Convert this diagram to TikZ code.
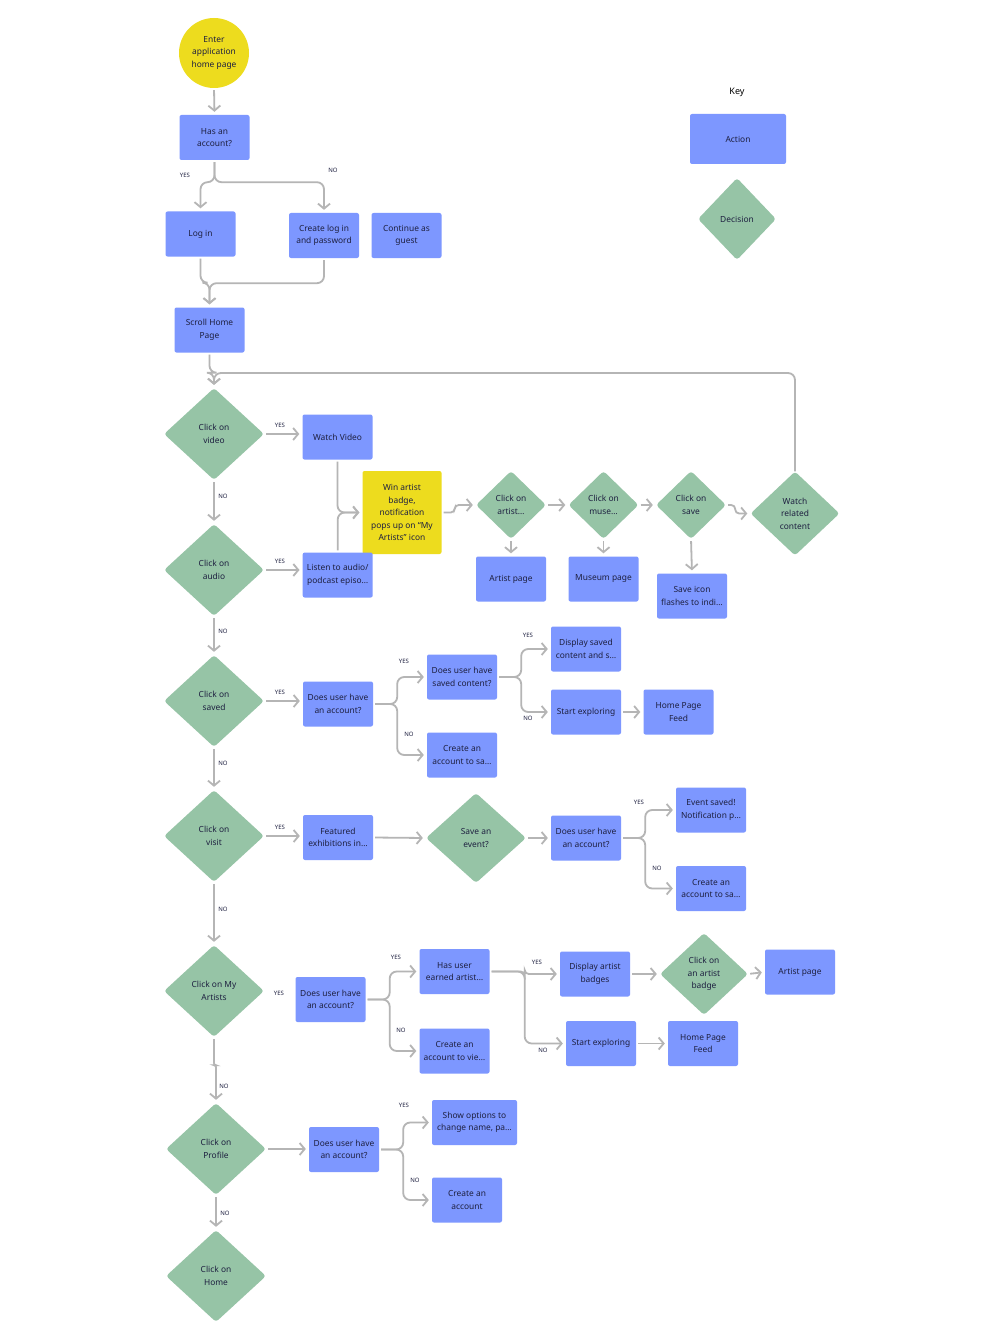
\documentclass[tikz,border=0pt]{standalone}
\usepackage{fontspec}
\setmainfont{Noto Sans}
\usetikzlibrary{shapes.geometric,arrows.meta}

\definecolor{actblue}{HTML}{7D97FF}
\definecolor{decgreen}{HTML}{96C4A6}
\definecolor{winyellow}{HTML}{EDDC1E}
\definecolor{linegray}{HTML}{B5B5B5}
\definecolor{ink}{HTML}{1E2040}

\newcommand\actfont{\fontsize{8.4}{12.5}\selectfont}
\newcommand\tagfont{\fontsize{6}{6.5}\selectfont}

\tikzstyle{action}=[shape=rectangle,rounded corners=2pt,fill=actblue,minimum width=70pt,minimum height=45pt,inner sep=1pt,align=center,font=\actfont,text=ink]
\tikzstyle{decision}=[shape=diamond,rounded corners=3pt,fill=decgreen,minimum width=100pt,minimum height=92pt,inner sep=0pt,align=center,font=\actfont,text=ink]
\tikzstyle{smalldec}=[decision,minimum width=70pt,minimum height=68pt]
\tikzstyle{win}=[action,fill=winyellow]
\tikzstyle{start}=[shape=circle,fill=winyellow,minimum size=70pt,inner sep=0pt,align=center,font=\actfont,text=ink]
\tikzstyle{conn}=[draw=linegray,line width=1.8pt,rounded corners=7pt,shorten >=3pt,shorten <=2pt,-{Straight Barb[length=5pt,width=12pt]}]
\tikzstyle{tag}=[font=\tagfont,text=ink,inner sep=0pt]
\def\fork{24}

\begin{document}
\begin{tikzpicture}[x=1pt,y=-1pt]
\path[fill=white,use as bounding box] (0,0) rectangle (1000,1340);

% entry
\node[start] (enter) at (214,53) {Enter\\application\\home page};
\node[action] (hasacc) at (214.5,137.5) {Has an\\account?};
\node[action] (login) at (200.5,234) {Log in};
\node[action] (createlog) at (324,235.5) {Create log in\\and password};
\node[action] (guest) at (406.5,235.5) {Continue as\\guest};
\node[action] (scroll) at (209.5,330) {Scroll Home\\Page};

\draw[conn] (enter.south) -- (hasacc.north);
\draw[conn] (hasacc.south) -- ++(0,22) -| (login.north);
\draw[conn] (hasacc.south) -- ++(0,22) -| (createlog.north);
\node[tag] at (185,175) {YES};
\node[tag] at (333,170) {NO};
\draw[conn] (login.south) -- ++(0,26) -| (scroll.north);
\draw[conn] (createlog.south) -- ++(0,25) -| (scroll.north);

% key
\node[font=\fontsize{9}{10}\selectfont\bfseries] (key) at (737,92) {Key};
\node[action,minimum width=96pt,minimum height=50pt] (keyact) at (738,139) {Action};
\node[decision,minimum width=78pt,minimum height=82pt] (keydec) at (737,219) {Decision};

% video and audio
\node[decision] (video) at (214,434) {Click on\\video};
\node[action] (watchv) at (337.5,437) {Watch Video};
\node[win,minimum width=79pt,minimum height=83pt] (badge) at (402,512.5) {Win artist\\badge,\\notification\\pops up on ``My\\Artists'' icon};
\node[decision] (audio) at (214,570) {Click on\\audio};
\node[action] (listen) at (337.7,575) {Listen to audio/\\podcast episo…};
\node[smalldec] (cartist) at (511,505) {Click on\\artist…};
\node[smalldec] (cmuseum) at (603.5,505) {Click on\\muse…};
\node[smalldec] (csave) at (691,505) {Click on\\save};
\node[decision,minimum width=89pt,minimum height=84pt] (related) at (795,513.5) {Watch\\related\\content};
\node[action] (artistpg) at (511,579) {Artist page};
\node[action] (museumpg) at (603.5,579) {Museum page};
\node[action] (saveicon) at (692,596) {Save icon\\flashes to indi…};

\coordinate (loop) at (214,373);
\draw[conn] (scroll.south) -- ++(0,20) -| (video.north);
\draw[conn,shorten <=0pt] (related.north) |- (loop) -- (video.north);
\draw[conn] (video.east) -- (video.east -| watchv.west);
\node[tag] at (280,425) {YES};
\draw[conn] (video.south) -- (audio.north);
\node[tag] at (223,496) {NO};
\draw[conn] (watchv.south) |- (badge.west);
\draw[conn] (listen.north) |- (badge.west);
\draw[conn] (audio.east) -- (audio.east -| listen.west);
\node[tag] at (280,561) {YES};
\draw[conn,rounded corners=4pt] (badge.east) -- ++(13,0) |- (cartist.west);
\draw[conn] (cartist.east) -- (cmuseum.west);
\draw[conn] (cmuseum.east) -- (csave.west);
\draw[conn,rounded corners=4pt] (csave.east) -- ++(9,0) |- (related.west);
\draw[conn] (cartist.south) -- (artistpg.north);
\draw[conn] (cmuseum.south) -- (museumpg.north);
\draw[conn] (csave.south) -- (saveicon.north);

% saved
\node[decision] (saved) at (214,701) {Click on\\saved};
\node[action] (acc1) at (338,704) {Does user have\\an account?};
\node[action] (hascontent) at (462,677) {Does user have\\saved content?};
\node[action] (create1) at (462,755) {Create an\\account to sa…};
\node[action] (display1) at (586,649) {Display saved\\content and s…};
\node[action] (explore1) at (586,712) {Start exploring};
\node[action] (feed1) at (678.5,712) {Home Page\\Feed};

\draw[conn] (audio.south) -- (saved.north);
\node[tag] at (223,631) {NO};
\draw[conn] (saved.east) -- (saved.east -| acc1.west);
\node[tag] at (280,692) {YES};
\draw[conn] (acc1.east) -- ++(\fork,0) |- (hascontent.west);
\draw[conn] (acc1.east) -- ++(\fork,0) |- (create1.west);
\node[tag] at (404,661) {YES};
\node[tag] at (409,734) {NO};
\draw[conn] (hascontent.east) -- ++(\fork,0) |- (display1.west);
\draw[conn] (hascontent.east) -- ++(\fork,0) |- (explore1.west);
\node[tag] at (528,635) {YES};
\node[tag] at (528,718) {NO};
\draw[conn] (explore1.east) -- (feed1.west);

% visit
\node[decision] (visit) at (214,836) {Click on\\visit};
\node[action] (featured) at (338,837.5) {Featured\\exhibitions in…};
\node[decision,minimum height=90pt] (event) at (476,838) {Save an\\event?};
\node[action] (acc2) at (586,838) {Does user have\\an account?};
\node[action] (evsaved) at (711,810) {Event saved!\\Notification p…};
\node[action] (create2) at (711,888.5) {Create an\\account to sa…};

\draw[conn] (saved.south) -- (visit.north);
\node[tag] at (223,763) {NO};
\draw[conn] (visit.east) -- (visit.east -| featured.west);
\node[tag] at (280,827) {YES};
\draw[conn] (featured.east) -- (event.west);
\draw[conn] (event.east) -- (acc2.west);
\draw[conn] (acc2.east) -- ++(\fork,0) |- (evsaved.west);
\draw[conn] (acc2.east) -- ++(\fork,0) |- (create2.west);
\node[tag] at (639,802) {YES};
\node[tag] at (657,868) {NO};

% my artists
\node[decision] (myartists) at (214,991) {Click on My\\Artists};
\node[action] (acc3) at (330.5,999.5) {Does user have\\an account?};
\node[action] (earned) at (454.5,971.5) {Has user\\earned artist…};
\node[action] (create3) at (454.5,1051) {Create an\\account to vie…};
\node[action] (badges) at (595,974) {Display artist\\badges};
\node[decision,minimum width=88pt,minimum height=82pt] (cbadge) at (704,974) {Click on\\an artist\\badge};
\node[action] (artistpg2) at (800,972) {Artist page};
\node[action] (explore2) at (601,1043.5) {Start exploring};
\node[action] (feed2) at (703,1043.5) {Home Page\\Feed};

\draw[conn] (visit.south) -- (myartists.north);
\node[tag] at (223,909) {NO};
\node[tag] at (279,993) {YES};
\draw[conn] (acc3.east) -- ++(\fork,0) |- (earned.west);
\draw[conn] (acc3.east) -- ++(\fork,0) |- (create3.west);
\node[tag] at (396,957) {YES};
\node[tag] at (401,1030) {NO};
\draw[conn,rounded corners=4pt] (earned.east) -- ++(35,0) |- (badges.west);
\draw[conn] (earned.east) -- ++(35,0) |- (explore2.west);
\node[tag] at (537,962) {YES};
\node[tag] at (543,1050) {NO};
\draw[conn] (badges.east) -- (cbadge.west);
\draw[conn] (cbadge.east) -- (artistpg2.west);
\draw[conn] (explore2.east) -- (feed2.west);

% profile and home
\node[decision] (profile) at (216,1149) {Click on\\Profile};
\node[action] (acc4) at (344,1149.5) {Does user have\\an account?};
\node[action,minimum width=85pt] (options) at (474.5,1122.5) {Show options to\\change name, pa…};
\node[action] (create4) at (467,1200) {Create an\\account};
\node[decision] (home) at (216,1276) {Click on\\Home};

\draw[conn,rounded corners=2pt] (myartists.south) -- ++(0,28) -| (profile.north);
\node[tag] at (224,1086) {NO};
\draw[conn] (profile.east) -- (profile.east -| acc4.west);
\draw[conn] (acc4.east) -- ++(\fork,0) |- (options.west);
\draw[conn] (acc4.east) -- ++(\fork,0) |- (create4.west);
\node[tag] at (404,1105) {YES};
\node[tag] at (415,1180) {NO};
\draw[conn] (profile.south) -- (home.north);
\node[tag] at (225,1213) {NO};
\end{tikzpicture}
\end{document}
